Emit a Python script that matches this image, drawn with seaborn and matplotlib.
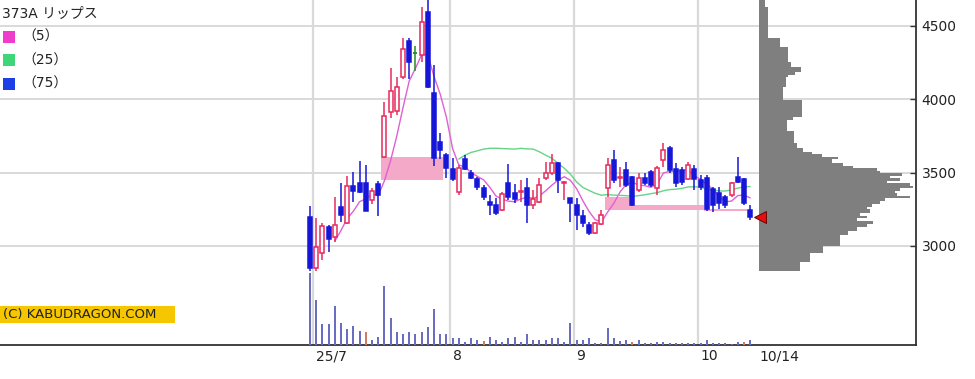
import numpy as np
import pandas as pd
import matplotlib
matplotlib.use("Agg")
import matplotlib.pyplot as plt
import matplotlib.transforms as mtransforms
from matplotlib.patches import Rectangle
import seaborn as sns

sns.set_theme(style="white")
plt.rcParams['font.family'] = ['DejaVu Sans', 'Noto Sans CJK JP']

# ---------------- data ----------------
title = "373A リップス"
opens = [3200, 2850, 2950, 3127, 3063, 3268, 3160, 3409, 3431, 3427,
         3313, 3420, 3605, 3915, 3922, 4150, 4400, 4313, 4302, 4597,
         4041, 3711, 3620, 3523, 3370, 3591, 3495, 3455, 3393, 3302,
         3279, 3245, 3427, 3359, 3366, 3393, 3279, 3302, 3461, 3495,
         3563, 3427, 3325, 3279, 3204, 3143, 3086, 3150, 3393, 3586,
         3461, 3518, 3472, 3381, 3461, 3506, 3393, 3586, 3666, 3523,
         3518, 3455, 3523, 3450, 3461, 3386, 3359, 3336, 3348, 3472,
         3455, 3245]
highs = [3270, 3190, 3155, 3143, 3336, 3427, 3477, 3506, 3581, 3552,
         3393, 3445, 3984, 4211, 4150, 4416, 4416, 4360, 4627, 4700,
         4234, 3770, 3632, 3600, 3552, 3620, 3518, 3472, 3416, 3347,
         3327, 3370, 3559, 3420, 3452, 3463, 3381, 3461, 3575, 3627,
         3575, 3445, 3330, 3327, 3245, 3165, 3165, 3245, 3598, 3654,
         3540, 3575, 3480, 3500, 3495, 3518, 3545, 3700, 3682, 3563,
         3540, 3575, 3552, 3486, 3484, 3404, 3400, 3350, 3436, 3604,
         3466, 3279]
lows = [2830, 2830, 2905, 2960, 3030, 3165, 3150, 3302, 3359, 3240,
        3286, 3204, 3600, 3870, 3893, 4140, 4136, 4190, 4256, 4080,
        3545, 3590, 3461, 3445, 3347, 3518, 3455, 3381, 3313, 3211,
        3211, 3240, 3313, 3290, 3300, 3154, 3250, 3290, 3450, 3484,
        3359, 3313, 3165, 3109, 3131, 3075, 3080, 3140, 3336, 3427,
        3404, 3404, 3270, 3370, 3413, 3404, 3347, 3540, 3495, 3404,
        3416, 3450, 3381, 3381, 3240, 3234, 3250, 3260, 3336, 3431,
        3280, 3177]
closes = [2850, 2995, 3135, 3045, 3143, 3211, 3409, 3377, 3370, 3240,
          3377, 3348, 3886, 4059, 4082, 4341, 4256, 4313, 4529, 4082,
          3598, 3654, 3529, 3455, 3529, 3523, 3461, 3404, 3336, 3279,
          3222, 3354, 3336, 3318, 3373, 3279, 3318, 3416, 3495, 3563,
          3450, 3438, 3291, 3211, 3154, 3086, 3154, 3211, 3552, 3450,
          3472, 3416, 3280, 3461, 3427, 3416, 3529, 3654, 3518, 3427,
          3438, 3552, 3455, 3400, 3252, 3279, 3295, 3279, 3427, 3438,
          3295, 3200]
volumes = [1434, 900, 414, 414, 780, 434, 314, 380, 286, 260,
           100, 160, 1180, 534, 254, 226, 254, 226, 254, 354,
           714, 226, 226, 134, 134, 66, 134, 100, 80, 160,
           100, 66, 134, 160, 66, 226, 100, 100, 100, 134,
           134, 66, 446, 100, 100, 134, 34, 34, 346, 134,
           80, 100, 66, 100, 34, 34, 66, 66, 34, 34,
           34, 34, 34, 34, 100, 34, 34, 34, 30, 66,
           66, 100]
red_volume_idx = [9, 28, 52, 70]

# unfilled price gaps (window boxes)
gap_start = [12, 48, 52, 64]
gap_end = [21, 51, 63, 70]
gap_low = [3450, 3245, 3245, 3240]
gap_high = [3609, 3336, 3280, 3252]

# price-volume profile (price bin edges, volume per bin)
profile_edges = [2832, 2893, 2950, 3000, 3059, 3075, 3104, 3132, 3150, 3172,
                 3188, 3204, 3222, 3250, 3268, 3286, 3309, 3325, 3341, 3359,
                 3377, 3393, 3411, 3427, 3445, 3461, 3477, 3495, 3513, 3529,
                 3547, 3563, 3591, 3609, 3627, 3643, 3666, 3700, 3786, 3859,
                 3877, 3995, 4082, 4150, 4166, 4188, 4222, 4257, 4359, 4416,
                 4632, 4700]
profile_volume = [41, 51, 64, 81, 81, 89, 98, 108, 114, 98,
                  108, 101, 111, 108, 113, 121, 126, 151, 138, 136,
                  141, 154, 151, 128, 141, 131, 143, 121, 118, 94,
                  84, 73, 79, 63, 53, 44, 38, 35, 28, 34,
                  43, 24, 27, 29, 36, 42, 32, 29, 21, 9,
                  6]

month_labels = ["25/7", "8", "9", "10"]
month_start_idx = [1, 23, 43, 63]
last_label = "10/14"
ma_windows = [5, 25, 75]
ma_labels = ["（5）", "（25）", "（75）"]
yticks = [3000, 3500, 4000, 4500]

# ---------------- styles ----------------
RED = "#e52a5c"
BLUE = "#1616d8"
DOJI = "#2a8a2a"
MA_LINE = ["#e060d4", "#66d487", "#2a44e0"]
MA_SQUARE = ["#f03ccc", "#3fd67a", "#1f3fe6"]
GAP = "#f5a9c9"
VOL_BLUE = "#6a6ec2"
VOL_RED = "#d07a66"
PROFILE = "#7f7f7f"
GRID = "#d9d9d9"
TXT = "#222222"

n = len(closes)
idx = np.arange(n)
df = pd.DataFrame({"i": idx, "open": opens, "high": highs, "low": lows,
                   "close": closes, "volume": volumes})

W, H = 975, 379
fig = plt.figure(figsize=(W / 100, H / 100), dpi=100)
fig.patch.set_facecolor("white")
ax_bottom, ax_h = 34 / H, 345 / H
ax = fig.add_axes([0, ax_bottom, 916 / W, ax_h])
ax.set_facecolor("white")

# volume on twin axis (created first so the price axis keeps right-side ticks)
axv = ax.twinx()

ax.set_xlim(-50, 97.74)
ax.set_ylim(2325, 4677)

# grid
for yt in yticks:
    ax.axhline(yt, color=GRID, lw=1.4, zorder=0)
for s in month_start_idx:
    ax.axvline(s - 0.5, color=GRID, lw=1.6, zorder=0)

# gap boxes
for s, e, lo, hi in zip(gap_start, gap_end, gap_low, gap_high):
    ax.bar((s + e) / 2, hi - lo, bottom=lo, width=(e - s + 1), color=GAP,
           linewidth=0, zorder=1)

# candles
body_w = 0.62
for r in df.itertuples():
    if r.close > r.open:
        col, face = RED, "white"
    elif r.close < r.open:
        col, face = BLUE, BLUE
    else:
        col, face = DOJI, DOJI
    ax.vlines(r.i, r.low, r.high, color=col, lw=1.1, zorder=3)
    if r.close == r.open:
        ax.hlines(r.open, r.i - body_w / 2, r.i + body_w / 2, color=col, lw=1.3, zorder=4)
    else:
        ax.bar(r.i, abs(r.close - r.open), bottom=min(r.open, r.close), width=body_w,
               facecolor=face, edgecolor=col, linewidth=1.1, zorder=4)

# moving averages
for w, c in zip(ma_windows, MA_LINE):
    ma = df["close"].rolling(w).mean()
    sub = pd.DataFrame({"i": idx, "ma": ma}).dropna()
    if len(sub):
        sns.lineplot(data=sub, x="i", y="ma", ax=ax, color=c, lw=1.0, zorder=2)

ax.set_xlabel("")
ax.set_ylabel("")

# axes styling
for side in ["top", "left"]:
    ax.spines[side].set_visible(False)
for side in ["right", "bottom"]:
    ax.spines[side].set_color("#333333")
    ax.spines[side].set_linewidth(1.3)
ax.set_yticks(yticks)
ax.set_yticklabels([str(v) for v in yticks])
ax.yaxis.set_ticks_position("right")
ax.yaxis.set_label_position("right")
ax.tick_params(axis="y", which="both", left=False, labelleft=False,
               right=True, labelright=True, direction="in", length=4, width=1,
               colors="#333333", labelcolor=TXT, labelsize=10, pad=4)
ax.set_xticks([])

# month labels
trans = mtransforms.blended_transform_factory(ax.transData, ax.transAxes)
for s, lab in zip(month_start_idx, month_labels):
    t = mtransforms.offset_copy(trans, fig=fig, x=3, y=-4, units="dots")
    ax.text(s - 0.5, 0, lab, transform=t, ha="left", va="top", fontsize=10, color=TXT)
t = mtransforms.offset_copy(trans, fig=fig, x=3, y=-4, units="dots")
ax.text(n, 0, last_label, transform=t, ha="left", va="top", fontsize=10, color=TXT)

# volume bars
axv.set_ylim(0, 6900)
vcols = [VOL_RED if i in red_volume_idx else VOL_BLUE for i in idx]
axv.bar(idx, volumes, width=0.3, color=vcols, linewidth=0, zorder=2)
axv.set_yticks([])
axv.tick_params(left=False, right=False, labelleft=False, labelright=False)
axv.patch.set_visible(False)
for sp in axv.spines.values():
    sp.set_visible(False)

# price-volume profile
axp = fig.add_axes([759 / W, ax_bottom, (916 - 759) / W, ax_h])
edges = np.array(profile_edges)
axp.barh(edges[:-1], profile_volume, height=np.diff(edges), align="edge",
         color=PROFILE, linewidth=0)
axp.set_xlim(0, 157)
axp.set_ylim(2325, 4677)
axp.axis("off")
axp.patch.set_visible(False)

# last price marker (drawn on top of the profile, in price-axis coordinates)
axp.plot([n - 1 + 1.5], [closes[-1]], marker="<", ms=8, color="#e01010",
         markeredgecolor="#700000", markeredgewidth=0.7, zorder=6, clip_on=False,
         transform=ax.transData)

# title / legend
fig.text(2 / W, 1 - 14 / H, title, ha="left", va="center", fontsize=10, color=TXT)
for k, (lab, c) in enumerate(zip(ma_labels, MA_SQUARE)):
    yc = 37 + k * 23.3
    fig.add_artist(Rectangle((2.5 / W, 1 - (yc + 6) / H), 12 / W, 12 / H,
                             transform=fig.transFigure, color=c, lw=0))
    fig.text(22 / W, 1 - yc / H, lab, ha="left", va="center", fontsize=10, color=TXT)

# copyright
fig.add_artist(Rectangle((0, 1 - 323 / H), 175 / W, 17 / H,
                         transform=fig.transFigure, color="#f6c700", lw=0))
fig.text(3 / W, 1 - 314.5 / H, "(C) KABUDRAGON.COM", ha="left", va="center",
         fontsize=9.5, color=TXT)

fig.savefig("out.png", dpi=100)
